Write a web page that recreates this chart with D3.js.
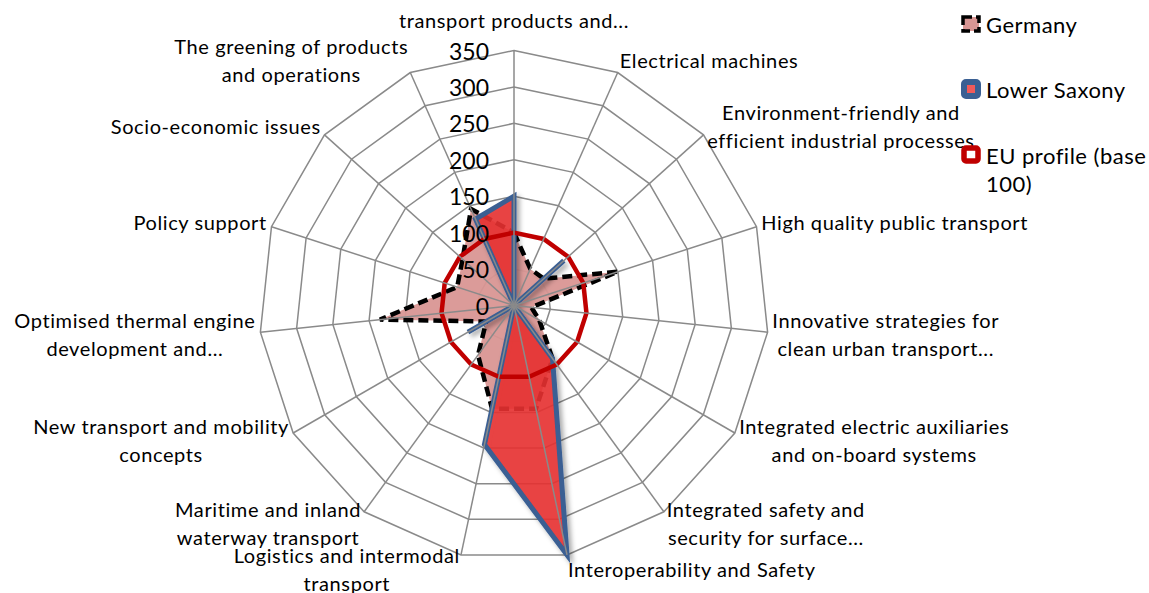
<!DOCTYPE html>
<html>
<head>
<meta charset="utf-8">
<script src="https://cdn.jsdelivr.net/npm/d3@7"></script>
<style>
  body { margin: 0; background: #fff; }
  svg { display: block; }
  text { font-family: Lato, "Open Sans", sans-serif; fill: #000; }
</style>
</head>
<body>
<svg id="chart" width="1149" height="593"></svg>
<script>
// Thematic categories (wrapped label lines), clockwise from the top
const categories = [
  ["transport products and..."],
  ["Electrical machines"],
  ["Environment-friendly and", "efficient industrial processes"],
  ["High quality public transport"],
  ["Innovative strategies for", "clean urban transport..."],
  ["Integrated electric auxiliaries", "and on-board systems"],
  ["Integrated safety and", "security for surface..."],
  ["Interoperability and Safety"],
  ["Logistics and intermodal", "transport"],
  ["Maritime and inland", "waterway transport"],
  ["New transport and mobility", "concepts"],
  ["Optimised thermal engine", "development and..."],
  ["Policy support"],
  ["Socio-economic issues"],
  ["The greening of products", "and operations"]
];

// Specialisation index per category
const germany     = [100, 55, 55, 150, 24, 40, 90, 145, 145, 84, 44, 185, 82, 95, 145];
const lowerSaxony = [150, 0, 92, 0, 0, 0, 90, 350, 195, 0, 73, 0, 0, 0, 130];
const euProfile   = [100, 100, 100, 100, 100, 100, 100, 100, 100, 100, 100, 100, 100, 100, 100];

const tickValues = [0, 50, 100, 150, 200, 250, 300, 350];
const legendLabels = [["Germany"], ["Lower Saxony"], ["EU profile (base", "100)"]];

const svg = d3.select("#chart");
const width = 1149, height = 593;
const cx = 514, cy = 305.5, R = 255;
const n = categories.length;

const r = d3.scaleLinear().domain([0, 350]).range([0, R]);
const a = d3.scaleLinear().domain([0, n]).range([0, 2 * Math.PI]);

const radial = d3.lineRadial()
  .angle((d, i) => a(i))
  .radius(d => r(d))
  .curve(d3.curveLinearClosed);

// drop shadow used under the Lower Saxony series
const defs = svg.append("defs");
const f = defs.append("filter").attr("id", "shadow")
  .attr("x", "-20%").attr("y", "-20%").attr("width", "140%").attr("height", "140%");
f.append("feDropShadow").attr("dx", 3).attr("dy", 3).attr("stdDeviation", 2.5)
  .attr("flood-color", "#000").attr("flood-opacity", 0.35);

svg.append("rect").attr("width", width).attr("height", height).attr("fill", "#fff");

const plot = svg.append("g").attr("transform", `translate(${cx},${cy})`);

// concentric value rings
plot.append("g").selectAll("path")
  .data(tickValues.filter(t => t > 0))
  .join("path")
  .attr("d", t => radial(d3.range(n).map(() => t)))
  .attr("fill", "none")
  .attr("stroke", "#8a8a8a")
  .attr("stroke-width", 1.5);

// Germany: pink area with dashed black outline
plot.append("path")
  .attr("d", radial(germany))
  .attr("fill", "#D99694")
  .attr("fill-opacity", 0.95)
  .attr("stroke", "#000")
  .attr("stroke-width", 4.5)
  .attr("stroke-dasharray", "10,5")
  .attr("stroke-linejoin", "miter");

// Lower Saxony: red area with blue outline
plot.append("path")
  .attr("d", radial(lowerSaxony))
  .attr("fill", "rgba(234,48,48,0.87)")
  .attr("stroke", "#3A5F93")
  .attr("stroke-width", 5)
  .attr("stroke-linejoin", "miter")
  .attr("filter", "url(#shadow)");

// EU profile reference line
plot.append("path")
  .attr("d", radial(euProfile))
  .attr("fill", "none")
  .attr("stroke", "#C00000")
  .attr("stroke-width", 4.5);

// spokes
plot.append("g").selectAll("line")
  .data(d3.range(n))
  .join("line")
  .attr("x1", 0).attr("y1", 0)
  .attr("x2", i => R * Math.sin(a(i)))
  .attr("y2", i => -R * Math.cos(a(i)))
  .attr("stroke", "#8a8a8a")
  .attr("stroke-width", 1.5);

// value tick labels along the top spoke
plot.append("g").selectAll("text")
  .data(tickValues)
  .join("text")
  .attr("x", -25)
  .attr("y", t => -r(t))
  .attr("text-anchor", "end")
  .attr("dominant-baseline", "central")
  .style("font-size", "23px")
  .text(t => t);

// category labels placed beside the outer ring vertices
const lineH = 28, gap = 5;
const labels = svg.append("g");
categories.forEach((lines, i) => {
  const th = a(i), s = Math.sin(th), c = Math.cos(th);
  const vx = cx + R * s, vy = cy - R * c;
  const t = labels.append("text")
    .attr("text-anchor", "middle")
    .attr("dominant-baseline", "central")
    .style("font-size", "20px")
    .style("letter-spacing", "0.6px");
  const spans = lines.map(l => t.append("tspan").text(l));
  const w = d3.max(spans, sp => sp.node().getComputedTextLength());
  let x;
  if (Math.abs(s) < 0.05) x = vx;
  else if (s > 0) x = vx + gap * s + w / 2;
  else x = vx + gap * s - w / 2;
  // labels straight above the chart clear the tick labels
  const centerY = vy - 14 * c - (c > 0.99 ? 17 : 0);
  spans.forEach((sp, j) => {
    sp.attr("x", x).attr("y", centerY + (j - (lines.length - 1) / 2) * lineH);
  });
});

// legend
const legend = svg.append("g");
const legendY = [24, 89, 155];
legend.append("rect").attr("x", 963).attr("y", legendY[0] - 7).attr("width", 16).attr("height", 14)
  .attr("fill", "#D99694").attr("stroke", "#000").attr("stroke-width", 3.5)
  .attr("stroke-dasharray", "9,4");
legend.append("rect").attr("x", 964).attr("y", legendY[1] - 7).attr("width", 14).attr("height", 14)
  .attr("rx", 2).attr("fill", "#F05A5A").attr("stroke", "#3A5F93").attr("stroke-width", 6);
legend.append("rect").attr("x", 964).attr("y", legendY[2] - 7).attr("width", 14).attr("height", 13)
  .attr("rx", 2).attr("fill", "#fff").attr("stroke", "#C00000").attr("stroke-width", 5.5);

legendLabels.forEach((lines, k) => {
  const t = legend.append("text")
    .attr("dominant-baseline", "central")
    .style("font-size", "22px")
    .style("letter-spacing", "0.5px");
  lines.forEach((l, j) => {
    t.append("tspan").attr("x", 986).attr("y", legendY[k] + j * 28).text(l);
  });
});
</script>
</body>
</html>
